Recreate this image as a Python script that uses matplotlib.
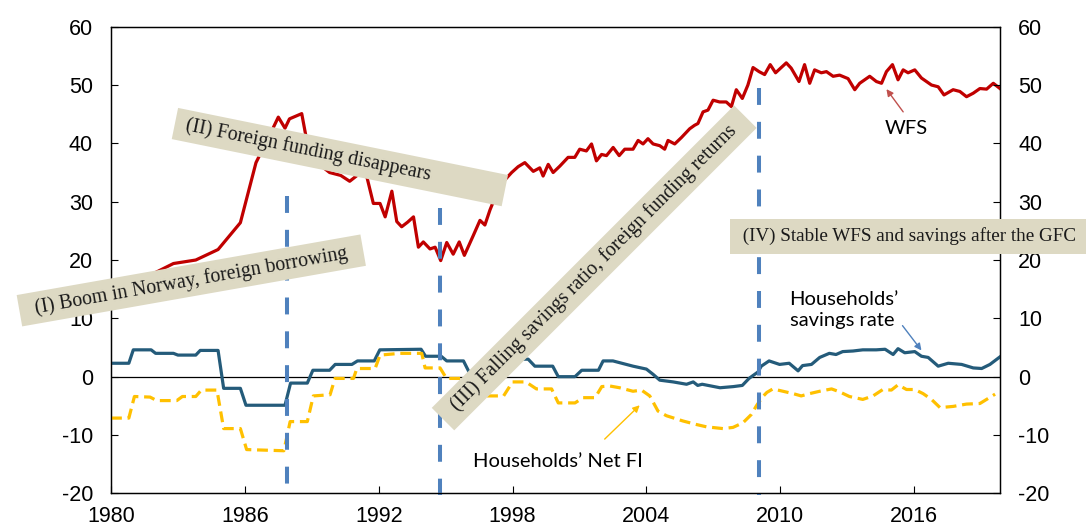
import matplotlib
matplotlib.use("Agg")
import matplotlib.pyplot as plt

plt.rcParams['axes.unicode_minus'] = False
plt.rcParams['font.family'] = 'Liberation Sans'

# wholesale funding share (WFS), %
wfs_year = [1980.0, 1980.75, 1981.6, 1982.8, 1983.8, 1984.8, 1985.8, 1986.5, 1987.1, 1987.5,
            1987.8, 1988.0, 1988.55, 1988.75, 1989.3, 1989.8, 1990.3, 1990.7, 1991.2, 1991.46,
            1991.76, 1992.06, 1992.29, 1992.59, 1992.81, 1993.03, 1993.3, 1993.56, 1993.78, 1994.0,
            1994.3, 1994.53, 1994.78, 1995.05, 1995.34, 1995.61, 1995.84, 1996.24, 1996.54, 1996.76,
            1996.99, 1997.3, 1997.6, 1997.96, 1998.25, 1998.55, 1998.93, 1999.22, 1999.37, 1999.6,
            1999.82, 2000.12, 2000.49, 2000.79, 2001.01, 2001.31, 2001.54, 2001.76, 2001.99, 2002.21,
            2002.51, 2002.78, 2003.03, 2003.4, 2003.63, 2003.85, 2004.07, 2004.3, 2004.6, 2004.82,
            2004.97, 2005.27, 2005.57, 2005.94, 2006.16, 2006.31, 2006.54, 2006.76, 2006.99, 2007.28,
            2007.58, 2007.81, 2008.03, 2008.3, 2008.55, 2008.78, 2009.05, 2009.3, 2009.55, 2009.79,
            2010.27, 2010.49, 2010.84, 2011.09, 2011.32, 2011.54, 2011.84, 2012.07, 2012.37, 2012.66,
            2013.04, 2013.34, 2013.56, 2014.01, 2014.31, 2014.54, 2014.76, 2015.03, 2015.28, 2015.51,
            2015.73, 2016.03, 2016.33, 2016.78, 2017.08, 2017.34, 2017.75, 2018.05, 2018.35, 2018.65,
            2018.95, 2019.25, 2019.55, 2019.85]
wfs = [13.5, 14.8, 17.1, 19.4, 20.0, 21.8, 26.4, 36.7, 41.3, 44.5,
       42.6, 44.2, 45.1, 41.0, 36.5, 35.0, 34.5, 33.5, 35.0, 34.4,
       29.7, 29.7, 27.4, 31.8, 26.6, 25.7, 26.5, 27.4, 22.2, 23.1,
       21.9, 22.2, 19.9, 23.0, 21.0, 23.1, 20.8, 24.2, 26.8, 26.0,
       28.6, 31.5, 33.5, 35.0, 36.0, 36.7, 35.2, 35.8, 34.4, 36.4,
       35.0, 36.1, 37.6, 37.6, 39.0, 38.7, 39.9, 37.0, 38.1, 37.9,
       39.3, 37.9, 39.0, 39.0, 40.5, 39.9, 40.8, 39.9, 39.6, 39.0,
       40.5, 39.9, 41.0, 42.5, 43.1, 43.4, 45.4, 45.7, 47.4, 47.1,
       47.1, 46.3, 49.2, 47.7, 50.0, 53.0, 52.3, 51.8, 53.5, 52.1,
       53.8, 52.9, 50.6, 53.5, 50.3, 52.6, 52.1, 52.3, 51.5, 51.7,
       51.1, 49.2, 50.3, 51.5, 50.6, 50.3, 52.3, 53.5, 50.9, 52.6,
       52.1, 52.6, 51.2, 50.0, 49.7, 48.3, 49.2, 48.9, 48.0, 48.6,
       49.4, 49.3, 50.3, 49.4]

# households' savings rate, %
sav_year = [1980.0, 1980.8, 1981.0, 1981.8, 1982.0, 1982.8, 1983.0, 1983.8, 1984.0, 1984.8,
            1985.05, 1985.8, 1986.05, 1987.8, 1988.05, 1988.8, 1989.05, 1989.8, 1990.05, 1990.8,
            1991.05, 1991.8, 1992.05, 1993.9, 1994.1, 1994.8, 1995.05, 1995.8, 1996.05, 1996.8,
            1997.2, 1997.9, 1998.2, 1998.7, 1999.0, 1999.8, 2000.05, 2000.8, 2001.1, 2001.85,
            2002.06, 2002.5, 2002.8, 2003.4, 2004.0, 2004.3, 2004.6, 2005.2, 2005.8, 2006.1,
            2006.3, 2006.5, 2007.3, 2007.9, 2008.3, 2008.6, 2009.0, 2009.15, 2009.5, 2009.97,
            2010.4, 2010.8, 2011.0, 2011.4, 2011.77, 2012.2, 2012.5, 2012.8, 2013.26, 2013.7,
            2014.3, 2014.7, 2015.06, 2015.28, 2015.58, 2016.03, 2016.33, 2016.63, 2017.08, 2017.53,
            2018.13, 2018.65, 2019.03, 2019.4, 2019.85]
sav = [2.3, 2.3, 4.6, 4.6, 4.0, 4.0, 3.7, 3.7, 4.5, 4.5,
       -2.0, -2.0, -4.9, -4.9, -1.1, -1.1, 1.1, 1.1, 2.1, 2.1,
       2.7, 2.7, 4.6, 4.7, 3.5, 3.5, 2.7, 2.7, 0.8, 0.8,
       1.8, 2.5, 3.0, 3.0, 1.8, 1.8, 0.0, 0.0, 1.1, 1.1,
       2.7, 2.7, 2.4, 1.8, 1.3, 0.4, -0.6, -0.9, -1.3, -0.9,
       -1.5, -1.3, -1.9, -1.7, -1.5, -0.3, 0.8, 1.8, 2.7, 2.1,
       2.3, 1.0, 1.9, 2.1, 3.3, 4.0, 3.8, 4.3, 4.4, 4.6,
       4.6, 4.7, 3.8, 4.8, 4.1, 4.3, 3.5, 3.3, 1.8, 2.3,
       2.1, 1.5, 1.4, 2.1, 3.4]

# households' net financial investment, %
nfi_year = [1980.0, 1980.8, 1981.05, 1981.75, 1982.05, 1982.95, 1983.2, 1983.8, 1984.05, 1984.75,
            1985.05, 1985.8, 1986.08, 1987.75, 1988.03, 1988.8, 1989.07, 1989.82, 1990.04, 1990.87,
            1991.02, 1991.84, 1992.06, 1992.96, 1993.93, 1994.08, 1994.75, 1995.04, 1995.8, 1996.1,
            1997.6, 1998.0, 1998.6, 1999.07, 1999.75, 2000.05, 2000.8, 2001.16, 2001.7, 2002.0,
            2002.36, 2002.8, 2003.4, 2003.78, 2004.15, 2004.52, 2004.9, 2005.64, 2006.24, 2006.69,
            2007.43, 2007.88, 2008.33, 2008.7, 2008.93, 2009.2, 2009.4, 2009.67, 2010.12, 2010.57,
            2010.94, 2011.32, 2011.77, 2012.3, 2012.66, 2013.1, 2013.7, 2014.16, 2014.6, 2014.98,
            2015.28, 2015.66, 2016.03, 2016.4, 2016.78, 2017.16, 2017.75, 2018.35, 2018.95, 2019.63]
nfi = [-7.1, -7.1, -3.4, -3.5, -4.1, -4.1, -3.4, -3.4, -2.3, -2.3,
       -8.9, -8.9, -12.5, -12.7, -7.7, -7.7, -3.3, -3.1, -0.3, -0.3,
       1.4, 1.4, 3.7, 4.0, 4.0, 1.5, 1.5, -0.3, -0.3, -3.3,
       -3.3, -0.9, -0.9, -2.1, -2.1, -4.5, -4.5, -3.6, -3.6, -1.7,
       -1.6, -1.9, -2.5, -2.3, -3.3, -5.9, -6.7, -7.6, -8.2, -8.6,
       -8.9, -8.7, -7.9, -6.5, -5.0, -3.5, -2.7, -2.1, -2.5, -2.9,
       -3.3, -2.9, -2.5, -2.1, -2.6, -3.4, -3.9, -3.3, -2.2, -2.3,
       -1.4, -2.2, -2.2, -2.9, -3.9, -5.3, -5.1, -4.7, -4.6, -3.0]

# phase breaks (dashed verticals): year and top of line
phase_year = [1987.88, 1994.75, 2009.03]
phase_top = [31.0, 28.9, 49.5]

xticks = [1980, 1986, 1992, 1998, 2004, 2010, 2016]
yticks = [-20, -10, 0, 10, 20, 30, 40, 50, 60]

box_col = '#DDD9C3'

fig = plt.figure(figsize=(10.86, 5.30), dpi=100)
ax = fig.add_axes([0.1022, 0.0692, 0.8186, 0.8804])
ax2 = ax.twinx()

ax.plot(wfs_year, wfs, color='#C00000', lw=2.3, zorder=3)
ax.plot(sav_year, sav, color='#245B7A', lw=2.3, zorder=3)
ax.plot(nfi_year, nfi, color='#FFC000', lw=2.3, linestyle=(0, (3.4, 1.8)), zorder=3)
ax.axhline(0, color='black', lw=0.9, zorder=2)
for xv, top in zip(phase_year, phase_top):
    ax.plot([xv, xv], [top, -20.3], color='#4F81BD', lw=2.9,
            linestyle=(0, (4.2, 4.2)), clip_on=False, zorder=4)

for a in (ax, ax2):
    a.set_xlim(1980, 2019.85)
    a.set_ylim(-20, 60)
    a.set_yticks(yticks)
    for s in a.spines.values():
        s.set_linewidth(0.9)
ax.set_xticks(xticks)
ax.tick_params(axis='x', direction='in', length=5, labelsize=15.5, pad=9)
ax.tick_params(axis='y', direction='in', length=5, labelsize=15.5, pad=13)
ax2.tick_params(axis='y', direction='in', length=5, labelsize=15.5, pad=13)

# phase labels
serif = dict(family='Liberation Serif', size=14.3, color='#1a1a1a', zorder=6,
             rotation_mode='anchor', ha='center', va='center', clip_on=False)
ax2.text(1983.6, 16.5, "  (I) Boom in Norway, foreign borrowing  ", rotation=10,
         bbox=dict(boxstyle='square,pad=0.3', fc=box_col, ec='none'), **serif)
ax2.text(1990.26, 37.65, " (II) Foreign funding disappears" + " " * 14, rotation=-11.5,
         bbox=dict(boxstyle='square,pad=0.3', fc=box_col, ec='none'), **serif)
ax2.text(2001.66, 18.65, "  (III) Falling savings ratio, foreign funding returns  ", rotation=45,
         bbox=dict(boxstyle='square,pad=0.3', fc=box_col, ec='none'), **serif)
ax2.text(2008.12, 24.05, " (IV) Stable WFS and savings after the GFC ",
         family='Liberation Serif', size=13.8, color='#1a1a1a', zorder=6,
         ha='left', va='center', clip_on=False,
         bbox=dict(boxstyle='square,pad=0.45', fc=box_col, ec='none'))

# series labels with arrows
lab = dict(family='Lato', size=14.5, color='black', zorder=6)
ax2.text(2015.66, 42.5, "WFS", ha='center', va='center', **lab)
ax2.annotate('', xy=(2014.76, 49.3), xytext=(2015.51, 45.4),
             arrowprops=dict(arrowstyle='-|>', color='#C0504D', lw=1, mutation_scale=10,
                             shrinkA=0, shrinkB=0))
ax2.text(2010.42, 11.4, "Households\u2019\nsavings rate", ha='left', va='center',
         linespacing=1.3, **lab)
ax2.annotate('', xy=(2016.33, 4.5), xytext=(2015.48, 8.75),
             arrowprops=dict(arrowstyle='-|>', color='#4F81BD', lw=1, mutation_scale=10,
                             shrinkA=0, shrinkB=0))
ax2.text(2000.04, -14.6, "Households\u2019 Net FI", ha='center', va='center', **lab)
ax2.annotate('', xy=(2003.7, -4.9), xytext=(2002.13, -10.7),
             arrowprops=dict(arrowstyle='-|>', color='#FFC000', lw=1, mutation_scale=10,
                             shrinkA=0, shrinkB=0))

fig.savefig("out.png", dpi=100)
